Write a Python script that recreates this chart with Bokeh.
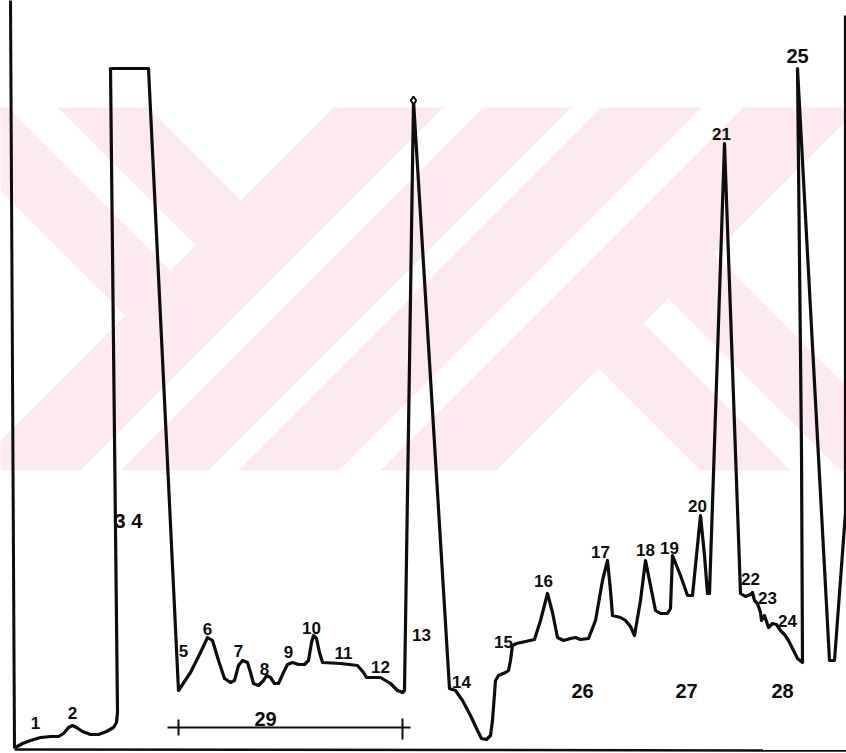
from bokeh.plotting import figure
from bokeh.models import Range1d, ColumnDataSource
from bokeh.core.properties import value
from bokeh.embed import file_html
from bokeh.resources import INLINE

# ---- chromatogram trace (time units, detector signal units) ----
trace_time = [1, 8, 16, 26, 36, 44, 49, 54, 58, 62, 68, 76, 84, 92, 99, 102, 103,
              96, 134,
              164, 176, 186, 193, 198, 204, 210, 216, 220, 224, 228, 233, 236, 239, 244,
              249, 252, 256, 260, 264, 269, 273, 278, 284, 290, 294, 297, 299, 302, 305,
              308, 326, 343, 349, 352, 366, 376, 383, 388, 390,
              399, 435, 441, 448, 456, 463, 467, 472, 476, 478, 481, 484, 491, 494, 496,
              498, 502, 511, 520, 526, 533, 538, 543, 549, 556, 561, 566, 574, 581, 588,
              593, 596, 598, 606, 611, 616, 620, 626, 631, 636, 641, 646, 653, 656, 658,
              666, 673, 678, 683, 686, 690, 693, 695, 710, 726, 731, 736, 738, 740, 743,
              746, 747, 750, 754, 758, 762, 766, 770, 774, 778, 783, 788, 787, 783, 815,
              820, 831, 831]
trace_signal = [1, 5, 8, 11, 12, 12, 15, 21, 23, 21, 17, 14, 14, 17, 21, 26, 36,
                680, 680,
                58, 76, 96, 111, 108, 88, 70, 66, 68, 83, 88, 86, 76, 65, 63,
                68, 73, 71, 65, 65, 76, 84, 86, 84, 84, 88, 106, 113, 110, 96,
                86, 85, 83, 76, 71, 71, 65, 58, 56, 58,
                648, 60, 58, 48, 33, 18, 10, 9, 13, 28, 68, 73, 76, 78, 88,
                103, 105, 107, 109, 128, 155, 136, 111, 108, 110, 111, 109, 110, 128, 168,
                188, 158, 133, 131, 128, 122, 113, 148, 188, 163, 138, 135, 135, 140, 193,
                173, 153, 153, 203, 233, 193, 155, 155, 605, 155, 152, 154, 156, 148, 145,
                136, 128, 133, 121, 125, 124, 118, 114, 108, 100, 90, 86, 298, 680, 88,
                88, 236, 733]

# ---- peak labels ----
label_text = ["1", "2", "5", "6", "7", "8", "9", "10", "11", "12", "13", "14", "15",
              "16", "17", "18", "19", "20", "21", "22", "23", "24"]
label_time = [21, 58, 169, 193, 224, 250, 274, 297, 329, 366, 407, 447, 489,
              529, 586, 631, 655, 683, 707, 736, 753, 773]
label_signal = [26, 36, 98, 120, 98, 80, 97, 121, 96, 82, 114, 67, 107,
                168, 197, 199, 201, 243, 615, 170, 151, 128]

big_text = ["3 4", "25", "26", "27", "28", "29"]
big_time = [114, 783, 568, 672, 768, 251]
big_signal = [228, 693, 58, 58, 58, 30]

# bracket for group 29
bracket_start, bracket_end, bracket_level = 153, 396, 21
bracket_ticks = [164, 388]

# apex mark of peak 13
apex_time, apex_signal = [399], [648]

# ---- figure ----
p = figure(width=846, height=753, output_backend="svg", toolbar_location=None,
           x_range=Range1d(-14, 832), y_range=Range1d(-5, 748),
           x_axis_location=None, y_axis_location=None, min_border=0)
p.grid.visible = False
p.outline_line_color = None
p.background_fill_color = "white"
p.border_fill_color = "white"

# faint watermark (decorative lattice of diagonal bands), drawn in pixel frame
def clip(poly, a, b, c):
    out = []
    n = len(poly)
    for i in range(n):
        P, Q = poly[i], poly[(i + 1) % n]
        fp = a * P[0] + b * P[1] - c
        fq = a * Q[0] + b * Q[1] - c
        if fp <= 0:
            out.append(P)
        if (fp <= 0) != (fq <= 0):
            tt = fp / (fp - fq)
            out.append((P[0] + tt * (Q[0] - P[0]), P[1] + tt * (Q[1] - P[1])))
    return out

def region(umin=None, umax=None, vmin=None, vmax=None):
    poly = [(-20, 107), (870, 107), (870, 470), (-20, 470)]
    if umax is not None:
        poly = clip(poly, 1, 1, umax)
    if umin is not None:
        poly = clip(poly, -1, -1, -umin)
    if vmax is not None:
        poly = clip(poly, 1, -1, vmax)
    if vmin is not None:
        poly = clip(poly, -1, 1, -vmin)
    return poly

regions = [region(umax=440, vmin=-190, vmax=-100),
           region(umax=440, vmin=-50, vmax=40),
           region(umin=440, umax=550),
           region(umin=590, umax=678),
           region(umin=708, umax=808),
           region(umin=850, umax=966),
           region(umin=966, vmin=230, vmax=320),
           region(umin=966, vmin=370, vmax=460)]
wx, wy = [], []
for r in regions:
    if len(r) >= 3:
        wx.append([q[0] - 14 for q in r])
        wy.append([748 - q[1] for q in r])
p.patches(wx, wy, fill_color="#FDEAEF", line_color=None)

# axes drawn as plain strokes
p.line([-4, 0], [750, 0], line_color="#0d0d0d", line_width=3)
p.line([0, 832], [-1, -2], line_color="#0d0d0d", line_width=2.5)

# trace
src = ColumnDataSource(dict(t=trace_time, s=trace_signal))
p.line("t", "s", source=src, line_color="#0d0d0d", line_width=3.2, line_join="round")
p.scatter(apex_time, apex_signal, marker="diamond", size=8, fill_color="white",
          line_color="#0d0d0d", line_width=2)

# bracket 29
p.segment(x0=[bracket_start], y0=[bracket_level], x1=[bracket_end], y1=[bracket_level],
          line_color="#0d0d0d", line_width=2)
p.segment(x0=bracket_ticks, y0=[bracket_level - 8, bracket_level - 12],
          x1=bracket_ticks, y1=[bracket_level + 8, bracket_level + 9],
          line_color="#0d0d0d", line_width=2)

p.text(x=label_time, y=label_signal, text=label_text, text_align="center",
       text_baseline="middle", text_font=value("Liberation Sans"),
       text_font_style="bold", text_font_size="17px", text_color="#0d0d0d")
p.text(x=big_time, y=big_signal, text=big_text, text_align="center",
       text_baseline="middle", text_font=value("Liberation Sans"),
       text_font_style="bold", text_font_size="20px", text_color="#0d0d0d")

open("out.html", "w").write(file_html(p, INLINE))
